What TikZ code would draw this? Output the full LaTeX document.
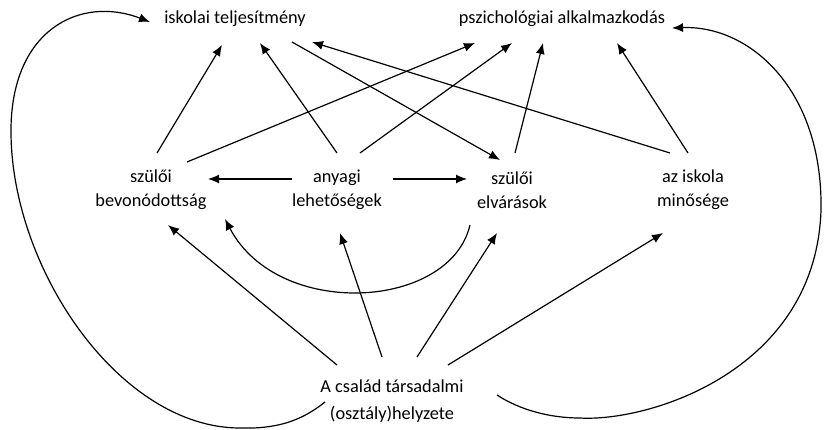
\documentclass[tikz,border=0pt]{standalone}
\usepackage{fontspec}
\setmainfont{Carlito}
\usetikzlibrary{arrows.meta}
\begin{document}
\begin{tikzpicture}[x=1pt,y=-1pt,
  lbl/.style={inner sep=0pt,align=center,font=\fontsize{18.3}{24}\selectfont},
  lblb/.style={inner sep=0pt,align=center,font=\fontsize{18.3}{27}\selectfont},
  arr/.style={line width=1.2pt,-{Latex[length=11pt,width=9pt]}}]
\useasboundingbox[fill=white] (0,0) rectangle (825,429);
\node[lbl] (isk) at (235,19) {iskolai teljesítmény};
\node[lbl] (psz) at (562,19) {pszichológiai alkalmazkodás};
\node[lbl] (szb) at (151,190) {szülői\\bevonódottság};
\node[lbl] (any) at (337,190) {anyagi\\lehetőségek};
\node[lbl] (sze) at (512,190) {szülői\\elvárások};
\node[lbl] (azi) at (693,190) {az iskola\\minősége};
\node[lblb] (csa) at (392,401) {A család társadalmi\\(osztály)helyzete};
% to iskolai teljesitmeny
\draw[arr] ([shift={(6,-37)}]szb.center) -- ([shift={(-13,26)}]isk.center);
\draw[arr] ([shift={(0,-37)}]any.center) -- ([shift={(25,24)}]isk.center);
\draw[arr] ([shift={(-23,-37)}]azi.center) -- ([shift={(77,23)}]isk.center);
\draw[arr] ([shift={(57,23)}]isk.center) -- ([shift={(-12,-30)}]sze.center);
% to pszichologiai alkalmazkodas
\draw[arr] ([shift={(36,-28)}]szb.center) -- ([shift={(-87,24)}]psz.center);
\draw[arr] ([shift={(23,-37)}]any.center) -- ([shift={(-50,24)}]psz.center);
\draw[arr] ([shift={(3,-37)}]sze.center) -- ([shift={(-19,24)}]psz.center);
\draw[arr] ([shift={(-5,-37)}]azi.center) -- ([shift={(55,24)}]psz.center);
% horizontal
\draw[arr] ([shift={(-45,-11)}]any.center) -- ([shift={(57,-11)}]szb.center);
\draw[arr] ([shift={(56,-11)}]any.center) -- ([shift={(-45,-11)}]sze.center);
% curved sze -> any
\draw[arr] ([shift={(-42,35)}]sze.center) .. controls (450,310) and (278,320) .. ([shift={(-112,29)}]any.center);
% from csalad
\draw[arr] ([shift={(-55,-36)}]csa.center) -- ([shift={(17,35)}]szb.center);
\draw[arr] ([shift={(-10,-44)}]csa.center) -- ([shift={(3,43)}]any.center);
\draw[arr] ([shift={(25,-44)}]csa.center) -- ([shift={(-15,43)}]sze.center);
\draw[arr] ([shift={(56,-36)}]csa.center) -- ([shift={(-30,43)}]azi.center);
% loops
\draw[arr] ([shift={(-67,1)}]csa.center) .. controls (300,422) and (275,429) .. (240,428)
  .. controls (120,428) and (12,270) .. (11,133)
  .. controls (10,30) and (80,-5) .. ([shift={(-85,3)}]isk.center);
\draw[arr] ([shift={(105,-6)}]csa.center) .. controls (520,410) and (550,418) .. (580,418)
  .. controls (650,422) and (816,370) .. (821,210)
  .. controls (823,90) and (750,25) .. ([shift={(110,9)}]psz.center);
\end{tikzpicture}
\end{document}
